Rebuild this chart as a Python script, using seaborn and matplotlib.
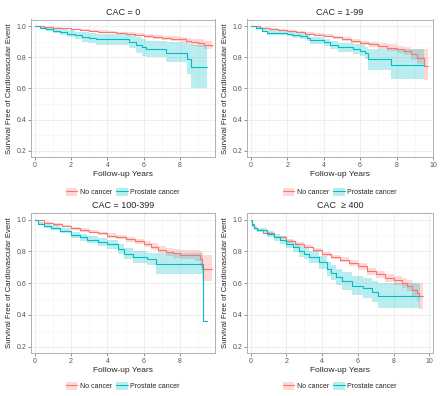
import pandas as pd
import seaborn as sns
import matplotlib.pyplot as plt
from matplotlib.patches import Patch
from matplotlib.lines import Line2D
from matplotlib.ticker import MultipleLocator

# Kaplan-Meier step points: time, survival, lower CI, upper CI

# CAC = 0
t0_nc = [0, 0.5, 1, 1.5, 2, 2.5, 3, 3.5, 4, 4.5, 5, 5.5, 6, 6.5, 7, 7.5, 8, 8.3, 8.6, 9.0, 9.3, 9.75]
s0_nc = [1.0, 0.995, 0.99, 0.985, 0.98, 0.975, 0.97, 0.965, 0.96, 0.955, 0.95, 0.945, 0.935, 0.93, 0.925, 0.92, 0.915, 0.905, 0.895, 0.89, 0.88, 0.875]
lo0_nc = [1.0, 0.993, 0.987, 0.981, 0.976, 0.970, 0.964, 0.958, 0.953, 0.947, 0.941, 0.935, 0.924, 0.918, 0.912, 0.905, 0.898, 0.886, 0.874, 0.866, 0.853, 0.845]
hi0_nc = [1.0, 0.997, 0.993, 0.989, 0.984, 0.980, 0.976, 0.972, 0.967, 0.963, 0.959, 0.955, 0.946, 0.942, 0.938, 0.935, 0.932, 0.924, 0.916, 0.914, 0.907, 0.905]
t0_pc = [0, 0.3, 0.6, 1.0, 1.4, 1.8, 2.2, 2.6, 3.0, 3.4, 5.2, 5.6, 5.9, 6.1, 7.2, 8.4, 8.6, 9.5]
s0_pc = [1.0, 0.99, 0.98, 0.97, 0.96, 0.95, 0.94, 0.93, 0.925, 0.915, 0.90, 0.88, 0.865, 0.85, 0.83, 0.79, 0.735, 0.735]
lo0_pc = [1.0, 0.985, 0.97, 0.955, 0.94, 0.93, 0.915, 0.90, 0.89, 0.88, 0.86, 0.83, 0.81, 0.80, 0.77, 0.69, 0.60, 0.60]
hi0_pc = [1.0, 0.995, 0.99, 0.985, 0.98, 0.975, 0.965, 0.96, 0.955, 0.95, 0.94, 0.93, 0.92, 0.905, 0.895, 0.885, 0.88, 0.88]

# CAC = 1-99
t1_nc = [0, 0.5, 1, 1.5, 2, 2.5, 3, 3.5, 4, 4.5, 5, 5.5, 6, 6.5, 7, 7.5, 8, 8.4, 8.8, 9.1, 9.5, 9.7]
s1_nc = [1.0, 0.99, 0.982, 0.975, 0.968, 0.96, 0.952, 0.945, 0.937, 0.927, 0.916, 0.905, 0.893, 0.882, 0.872, 0.862, 0.852, 0.838, 0.82, 0.795, 0.745, 0.745]
lo1_nc = [1.0, 0.987, 0.978, 0.970, 0.962, 0.953, 0.944, 0.936, 0.927, 0.916, 0.904, 0.892, 0.879, 0.866, 0.854, 0.842, 0.830, 0.812, 0.785, 0.755, 0.655, 0.655]
hi1_nc = [1.0, 0.993, 0.986, 0.980, 0.974, 0.967, 0.960, 0.954, 0.947, 0.938, 0.928, 0.918, 0.907, 0.898, 0.890, 0.882, 0.874, 0.864, 0.855, 0.850, 0.85, 0.85]
t1_pc = [0, 0.3, 0.6, 0.9, 2.0, 2.25, 2.7, 3.1, 3.25, 4.0, 4.35, 4.8, 5.6, 6.0, 6.25, 6.45, 7.7, 9.5]
s1_pc = [1.0, 0.985, 0.97, 0.958, 0.95, 0.942, 0.935, 0.925, 0.91, 0.896, 0.879, 0.864, 0.855, 0.843, 0.827, 0.79, 0.75, 0.75]
lo1_pc = [1.0, 0.978, 0.96, 0.945, 0.935, 0.925, 0.916, 0.905, 0.888, 0.872, 0.853, 0.835, 0.823, 0.808, 0.787, 0.72, 0.66, 0.66]
hi1_pc = [1.0, 0.992, 0.98, 0.972, 0.966, 0.959, 0.954, 0.945, 0.932, 0.92, 0.905, 0.893, 0.887, 0.878, 0.867, 0.855, 0.855, 0.855]

# CAC = 100-399
t2_nc = [0, 0.5, 1, 1.5, 2, 2.5, 3, 3.5, 4, 4.5, 5, 5.5, 6, 6.4, 6.8, 7.2, 7.6, 8.0, 8.8, 9.1, 9.2, 9.74]
s2_nc = [1.0, 0.98, 0.97, 0.96, 0.945, 0.935, 0.925, 0.913, 0.90, 0.89, 0.877, 0.863, 0.848, 0.83, 0.81, 0.795, 0.787, 0.78, 0.775, 0.755, 0.69, 0.69]
lo2_nc = [1.0, 0.975, 0.963, 0.952, 0.936, 0.925, 0.914, 0.901, 0.887, 0.876, 0.862, 0.847, 0.83, 0.81, 0.788, 0.77, 0.76, 0.75, 0.74, 0.71, 0.615, 0.615]
hi2_nc = [1.0, 0.985, 0.977, 0.968, 0.954, 0.945, 0.936, 0.925, 0.913, 0.904, 0.892, 0.879, 0.866, 0.85, 0.832, 0.82, 0.814, 0.81, 0.81, 0.80, 0.78, 0.78]
t2_pc = [0, 0.2, 0.5, 0.9, 1.4, 2.0, 2.5, 2.9, 3.5, 4.0, 4.6, 4.9, 5.4, 6.2, 6.7, 9.24, 9.46]
s2_pc = [1.0, 0.975, 0.96, 0.95, 0.93, 0.905, 0.89, 0.874, 0.86, 0.844, 0.817, 0.785, 0.764, 0.754, 0.722, 0.36, 0.36]
lo2_pc = [1.0, 0.965, 0.947, 0.935, 0.913, 0.885, 0.868, 0.85, 0.835, 0.816, 0.786, 0.75, 0.727, 0.715, 0.66, 0.36, 0.36]
hi2_pc = [1.0, 0.985, 0.973, 0.965, 0.947, 0.925, 0.912, 0.898, 0.885, 0.872, 0.848, 0.82, 0.801, 0.793, 0.79, 0.36, 0.36]

# CAC >= 400
t3_nc = [0, 0.1, 0.2, 0.35, 0.7, 1.3, 2.0, 2.5, 3.0, 3.5, 4.0, 4.5, 5.0, 5.5, 6.0, 6.5, 7.0, 7.5, 8.0, 8.45, 8.75, 9.0, 9.3, 9.42, 9.66]
s3_nc = [1.0, 0.97, 0.95, 0.935, 0.915, 0.89, 0.863, 0.847, 0.83, 0.808, 0.785, 0.766, 0.747, 0.727, 0.705, 0.675, 0.655, 0.635, 0.617, 0.60, 0.585, 0.555, 0.535, 0.516, 0.516]
lo3_nc = [1.0, 0.966, 0.945, 0.929, 0.908, 0.882, 0.854, 0.837, 0.819, 0.796, 0.772, 0.752, 0.732, 0.71, 0.686, 0.654, 0.632, 0.61, 0.589, 0.568, 0.548, 0.51, 0.48, 0.44, 0.44]
hi3_nc = [1.0, 0.974, 0.955, 0.941, 0.922, 0.898, 0.872, 0.857, 0.841, 0.82, 0.798, 0.78, 0.762, 0.744, 0.724, 0.696, 0.678, 0.66, 0.645, 0.632, 0.622, 0.60, 0.595, 0.60, 0.60]
t3_pc = [0, 0.1, 0.2, 0.35, 0.9, 1.3, 1.65, 2.0, 2.35, 2.7, 3.0, 3.25, 3.8, 4.25, 4.5, 4.75, 5.1, 5.65, 6.3, 6.8, 7.15, 9.48]
s3_pc = [1.0, 0.965, 0.95, 0.935, 0.907, 0.888, 0.87, 0.848, 0.825, 0.80, 0.785, 0.764, 0.733, 0.69, 0.665, 0.638, 0.613, 0.585, 0.57, 0.547, 0.522, 0.522]
lo3_pc = [1.0, 0.955, 0.938, 0.92, 0.888, 0.866, 0.846, 0.82, 0.795, 0.767, 0.75, 0.726, 0.692, 0.645, 0.617, 0.587, 0.558, 0.527, 0.508, 0.482, 0.445, 0.445]
hi3_pc = [1.0, 0.975, 0.962, 0.95, 0.926, 0.91, 0.894, 0.876, 0.855, 0.833, 0.82, 0.802, 0.774, 0.735, 0.713, 0.689, 0.668, 0.643, 0.632, 0.612, 0.598, 0.598]

titles = ["CAC = 0", "CAC = 1-99", "CAC = 100-399", "CAC  \u2265 400"]
groups = ["No cancer", "Prostate cancer"]
colors = {"No cancer": "#F8766D", "Prostate cancer": "#00BFC4"}

curves = [
    [(t0_nc, s0_nc, lo0_nc, hi0_nc), (t0_pc, s0_pc, lo0_pc, hi0_pc)],
    [(t1_nc, s1_nc, lo1_nc, hi1_nc), (t1_pc, s1_pc, lo1_pc, hi1_pc)],
    [(t2_nc, s2_nc, lo2_nc, hi2_nc), (t2_pc, s2_pc, lo2_pc, hi2_pc)],
    [(t3_nc, s3_nc, lo3_nc, hi3_nc), (t3_pc, s3_pc, lo3_pc, hi3_pc)],
]

sns.set_theme(style="white")
plt.rcParams['font.family'] = ['Liberation Sans', 'DejaVu Sans']

fig = plt.figure(figsize=(4.4, 3.96), dpi=100)
W, H = 440, 396
# panel boxes in pixels: (left, top, right, bottom)
boxes = [(31, 19.5, 215, 157), (247, 19.5, 433, 157),
         (31, 213, 215, 353), (247, 213, 433, 353)]
xmax = [9.92, 10.0, 9.92, 10.2]

for i, (l, t, r, b) in enumerate(boxes):
    ax = fig.add_axes([l / W, 1 - b / H, (r - l) / W, (b - t) / H])
    rows = []
    for g, (tt, ss, lo, hi) in zip(groups, curves[i]):
        ax.fill_between(tt, lo, hi, step="post", color=colors[g], alpha=0.27, lw=0)
        rows.append(pd.DataFrame({"time": tt, "surv": ss, "group": g}))
    df = pd.concat(rows, ignore_index=True)
    sns.lineplot(data=df, x="time", y="surv", hue="group", palette=colors,
                 estimator=None, sort=False, drawstyle="steps-post",
                 lw=0.8, ax=ax, legend=False)

    ax.set_xlim(-0.2, xmax[i])
    ax.set_ylim(0.16, 1.042)
    ax.xaxis.set_major_locator(MultipleLocator(2))
    ax.xaxis.set_minor_locator(MultipleLocator(1))
    ax.yaxis.set_major_locator(MultipleLocator(0.2))
    ax.yaxis.set_minor_locator(MultipleLocator(0.1))
    ax.yaxis.set_major_formatter(lambda v, p: f"{v:.1f}")
    ax.grid(which="major", color="#ebebeb", lw=0.6)
    ax.grid(which="minor", color="#f3f3f3", lw=0.4)
    ax.set_axisbelow(True)
    for sp in ax.spines.values():
        sp.set_color("#b0b0b0")
        sp.set_linewidth(0.7)
    ax.tick_params(which="major", length=2, width=0.5, color="#666666",
                   labelsize=5, labelcolor="#555555", pad=1.5,
                   bottom=True, left=True)
    ax.tick_params(which="minor", length=0)

    ax.set_title(titles[i], fontsize=6.5, pad=3.5)
    ax.set_xlabel("Follow-up Years", fontsize=6, labelpad=1.5)
    ax.set_ylabel("Survival Free of Cardiovascular Event", fontsize=5.6, labelpad=2)

    handles = [(Patch(facecolor=colors[g], alpha=0.27, lw=0),
                Line2D([], [], color=colors[g], lw=0.8)) for g in groups]
    ax.legend(handles, groups, loc="center", ncol=2, frameon=False,
              bbox_to_anchor=(0.5, -0.255 if i < 2 else -0.236),
              fontsize=5, handlelength=1.6, handleheight=1.4,
              columnspacing=0.6, handletextpad=0.4)

fig.savefig("out.png", dpi=100)
